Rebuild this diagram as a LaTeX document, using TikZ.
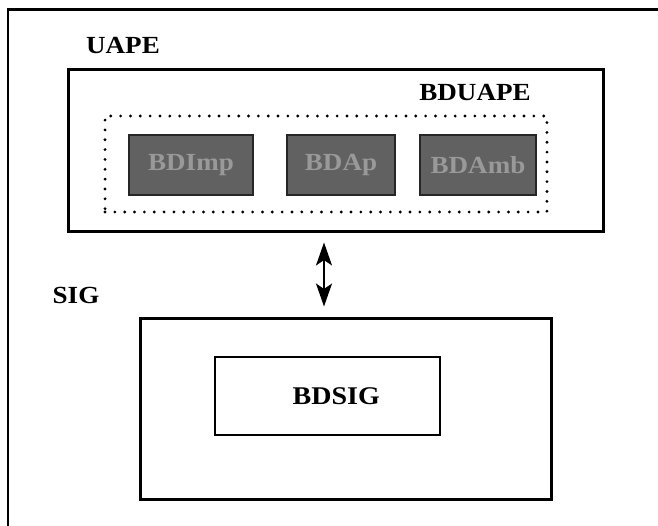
\documentclass[tikz,border=0pt]{standalone}
\usepackage{fontspec}
\setmainfont{Liberation Serif}
\newfontfamily\boxfont[FakeStretch=1.1]{Liberation Serif}
\usetikzlibrary{arrows.meta}

\begin{document}
\begin{tikzpicture}[x=0.02cm, y=-0.02cm, >={Stealth[length=13pt,width=9pt,inset=3pt]},
    label/.style={font=\boxfont\fontsize{14}{16}\selectfont\bfseries, inner sep=0pt},
    heavybox/.style={draw, line width=1.7pt, inner sep=0pt},
    thinbox/.style={draw, line width=1.3pt, inner sep=0pt},
    dotbox/.style={draw, line width=1.8pt, line cap=round, dash pattern=on 0pt off 5.6pt, inner sep=0pt},
    shadebox/.style={draw=black!85, line width=0.8pt, fill=black!62, text=black!40, inner sep=0pt,
        font=\boxfont\fontsize{14}{16}\selectfont\bfseries, minimum height=1.2cm}]
    \useasboundingbox (0,0) rectangle (658,526);

    % outer frame (cut off at right and bottom)
    \draw[line width=1.7pt] (8,526) -- (8,10) -- (658,10);

    % UAPE part
    \node[label] (uapelbl) at (123,46) {UAPE};
    \node[heavybox, minimum width=10.72cm, minimum height=3.26cm] (uape) at (336,150.5) {};
    \node[label] (bduapelbl) at (475,92) {BDUAPE};
    \node[dotbox, minimum width=8.84cm, minimum height=1.92cm] (bduape) at (326,164) {};

    \node[shadebox, minimum width=2.48cm] (bdimp) at (191,165) {BDImp};
    \node[shadebox, minimum width=2.16cm] (bdap) at (341,165) {BDAp};
    \node[shadebox, minimum width=2.32cm] (bdamb) at (478,165) {BDAmb};

    % SIG part
    \node[label] (siglbl) at (76,295) {SIG};
    \node[heavybox, minimum width=8.24cm, minimum height=3.64cm] (sig) at (346,409) {};
    \node[thinbox, minimum width=4.5cm, minimum height=1.56cm, font=\boxfont\fontsize{14.5}{16}\selectfont\bfseries]
        (bdsig) at (327.5,396) {\hspace*{0.35cm}BDSIG};

    % link between the two
    \coordinate (linkx) at (324,0);
    \draw[<->, line width=1.6pt, shorten <=0.18cm, shorten >=0.2cm] (uape.south -| linkx) -- (sig.north -| linkx);
\end{tikzpicture}
\end{document}
